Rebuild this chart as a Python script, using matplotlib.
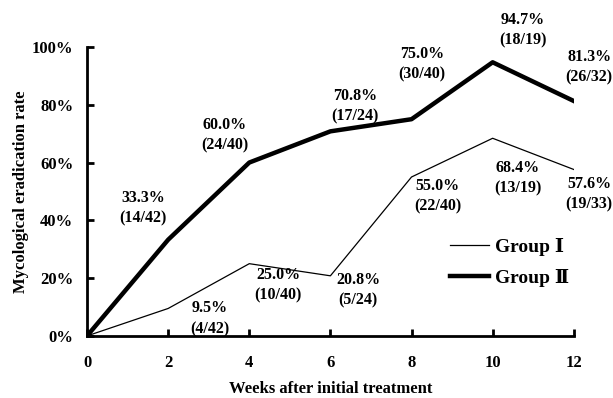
import matplotlib.pyplot as plt
from matplotlib.ticker import FuncFormatter

# ─── Data ───────────────────────────────────────────────
weeks = [0, 2, 4, 6, 8, 10, 12]
group1 = [0, 9.5, 25.0, 20.8, 55.0, 68.4, 57.6]
group2 = [0, 33.3, 60.0, 70.8, 75.0, 94.7, 81.3]
group1_counts = [None, "4/42", "10/40", "5/24", "22/40", "13/19", "19/33"]
group2_counts = [None, "14/42", "24/40", "17/24", "30/40", "18/19", "26/32"]

# label offsets (dx, dy) from each point, data units
g1_offsets = [None, (1.03, -3.5), (0.71, -7.4), (0.68, -5.0), (0.65, -6.6), (0.62, -13.9), (0.38, -8.5)]
g2_offsets = [None, (-0.62, 10.8), (-0.60, 9.4), (0.60, 8.7), (0.26, 19.1), (0.74, 11.1), (0.38, 11.6)]

# ─── Style ──────────────────────────────────────────────
plt.rcParams['font.family'] = ['Liberation Serif', 'DejaVu Serif']
plt.rcParams['font.weight'] = 'bold'

fig = plt.figure(figsize=(6.13, 3.98), dpi=100)
ax = fig.add_axes([0.142, 0.156, 0.794, 0.726])

ax.plot(weeks, group1, color='black', lw=0.9, label='Group Ⅰ')
ax.plot(weeks, group2, color='black', lw=3.2, label='Group Ⅱ')

for x, y, c, off in zip(weeks, group1, group1_counts, g1_offsets):
    if c is None:
        continue
    ax.text(x + off[0], y + off[1], f"{y:.1f}%\n({c})", ha='center', va='center',
            fontsize=11.5, fontweight='bold', linespacing=1.4)
for x, y, c, off in zip(weeks, group2, group2_counts, g2_offsets):
    if c is None:
        continue
    ax.text(x + off[0], y + off[1], f"{y:.1f}%\n({c})", ha='center', va='center',
            fontsize=11.5, fontweight='bold', linespacing=1.4, clip_on=False)

ax.set_xlim(0, 12)
ax.set_ylim(0, 100)
ax.set_xticks(weeks)
ax.set_yticks([0, 20, 40, 60, 80, 100])
ax.yaxis.set_major_formatter(FuncFormatter(lambda v, p: f"{int(v)}%"))

for s in ['top', 'right']:
    ax.spines[s].set_visible(False)
for s in ['left', 'bottom']:
    ax.spines[s].set_linewidth(2.0)

ax.tick_params(direction='in', length=5, width=2, labelsize=12)
ax.tick_params(axis='x', pad=14)
ax.tick_params(axis='y', pad=10)
for lab in ax.get_xticklabels() + ax.get_yticklabels():
    lab.set_fontweight('bold')

ax.set_xlabel("Weeks after initial treatment", fontsize=12, fontweight='bold', labelpad=7)
ax.set_ylabel("Mycological eradication rate", fontsize=12, fontweight='bold', labelpad=2)

ax.legend(loc='center left', bbox_to_anchor=(0.71, 0.255), frameon=False, fontsize=14,
          handlelength=2.0, handletextpad=0.3, labelspacing=0.65)

fig.savefig("out.png", dpi=100)
